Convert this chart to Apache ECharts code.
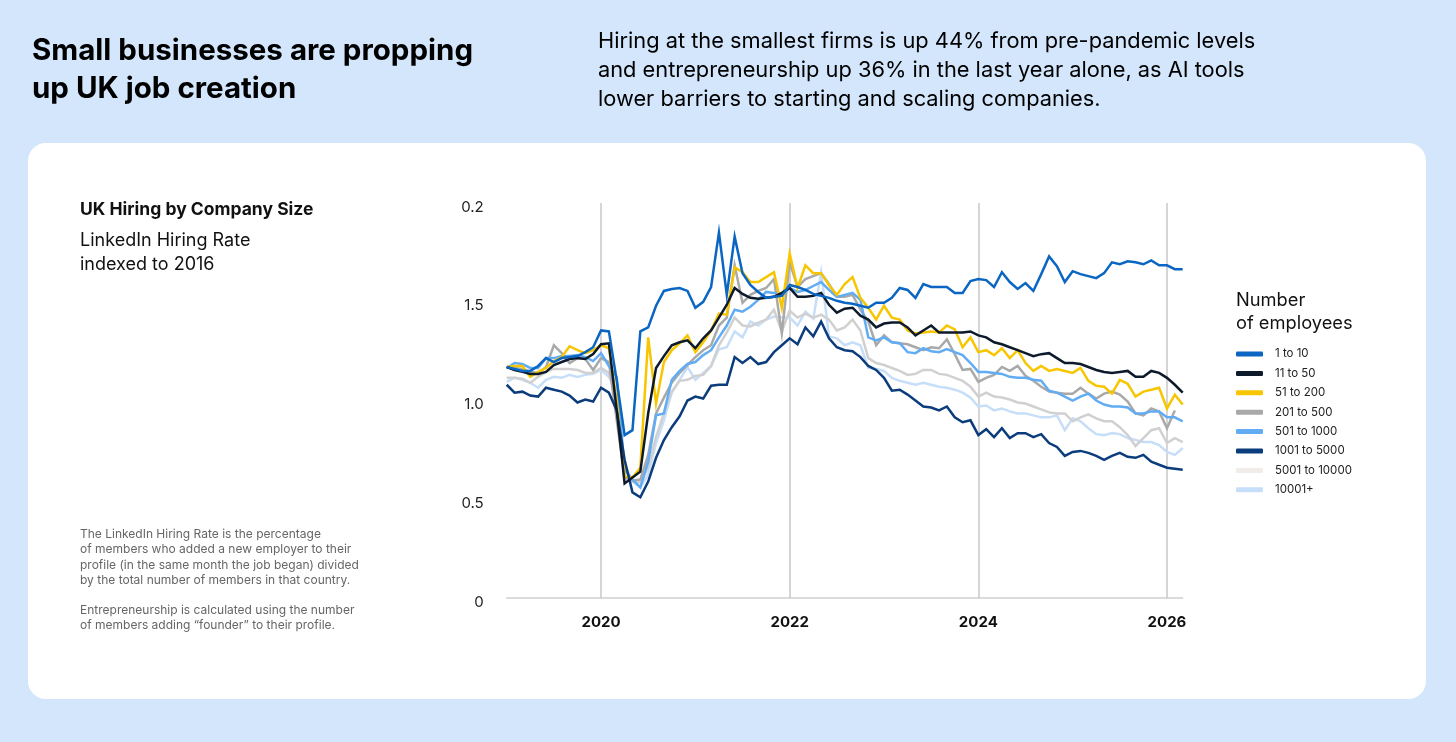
<!DOCTYPE html>
<html>
<head>
<meta charset="utf-8">
<script src="https://cdn.jsdelivr.net/npm/echarts@6/dist/echarts.min.js"></script>
<style>
  html, body { margin: 0; padding: 0; background: #d3e6fb; }
  #chart { width: 1456px; height: 742px; }
</style>
</head>
<body>
<div id="chart"></div>
<script>
// 1. data
// months Jan 2019 .. Mar 2026
var months = [];
for (var y = 2019; y <= 2026; y++) {
    for (var m = 1; m <= 12; m++) {
        if (y === 2026 && m > 3) break;
        months.push(y + '-' + (m < 10 ? '0' + m : m));
    }
}
var yearTicks = ['2020-01', '2022-01', '2024-01', '2026-01'];
var yTickLabels = ['0', '0.5', '1.0', '1.5', '0.2'];

var s1to10 = [1.19,1.18,1.17,1.17,1.195,1.235,1.215,1.235,1.24,1.245,
    1.265,1.29,1.375,1.37,1.12,0.845,0.87,1.37,1.39,1.50,
    1.575,1.585,1.59,1.575,1.49,1.52,1.595,1.87,1.555,1.85,
    1.665,1.605,1.57,1.54,1.545,1.55,1.605,1.595,1.58,1.56,
    1.55,1.54,1.525,1.515,1.51,1.50,1.49,1.515,1.515,1.54,
    1.59,1.58,1.54,1.61,1.595,1.595,1.595,1.565,1.565,1.625,
    1.635,1.63,1.595,1.67,1.62,1.585,1.615,1.575,1.66,1.75,
    1.70,1.62,1.675,1.66,1.65,1.64,1.665,1.72,1.71,1.725,
    1.72,1.71,1.73,1.705,1.705,1.685,1.685];
var s11to50 = [1.19,1.175,1.165,1.155,1.155,1.165,1.20,1.215,1.23,1.235,
    1.23,1.255,1.305,1.31,0.97,0.60,0.63,0.66,0.955,1.185,
    1.245,1.30,1.315,1.325,1.285,1.335,1.375,1.44,1.505,1.59,
    1.56,1.54,1.535,1.54,1.545,1.565,1.59,1.545,1.545,1.55,
    1.565,1.505,1.465,1.485,1.49,1.45,1.43,1.39,1.41,1.415,
    1.415,1.39,1.35,1.375,1.40,1.365,1.365,1.365,1.365,1.37,
    1.35,1.34,1.315,1.305,1.29,1.275,1.26,1.245,1.255,1.26,
    1.235,1.21,1.21,1.205,1.19,1.175,1.165,1.16,1.165,1.17,
    1.14,1.14,1.17,1.16,1.135,1.10,1.06];
var s51to200 = [1.19,1.195,1.195,1.14,1.165,1.185,1.22,1.24,1.295,1.275,
    1.26,1.275,1.30,1.285,1.02,0.635,0.63,0.68,1.34,1.005,
    1.215,1.275,1.31,1.35,1.265,1.315,1.375,1.46,1.455,1.695,
    1.67,1.62,1.62,1.645,1.67,1.49,1.765,1.59,1.705,1.665,
    1.665,1.605,1.555,1.61,1.645,1.54,1.49,1.43,1.50,1.44,
    1.43,1.375,1.36,1.365,1.37,1.365,1.40,1.38,1.29,1.34,
    1.265,1.275,1.25,1.285,1.235,1.275,1.21,1.17,1.195,1.17,
    1.18,1.17,1.16,1.185,1.12,1.095,1.09,1.055,1.125,1.105,
    1.04,1.065,1.075,1.085,0.98,1.05,1.00];
var s201to500 = [1.19,1.185,1.18,1.165,1.16,1.19,1.30,1.26,1.21,1.235,
    1.23,1.175,1.235,1.215,0.92,0.635,0.615,0.62,0.745,0.955,
    1.035,1.11,1.16,1.20,1.24,1.275,1.30,1.40,1.44,1.705,
    1.515,1.555,1.575,1.59,1.635,1.36,1.72,1.595,1.635,1.65,
    1.665,1.61,1.545,1.545,1.555,1.48,1.42,1.30,1.35,1.315,
    1.31,1.305,1.29,1.275,1.29,1.285,1.33,1.255,1.175,1.18,
    1.115,1.135,1.15,1.19,1.17,1.195,1.145,1.12,1.09,1.065,
    1.06,1.055,1.055,1.085,1.055,1.03,1.055,1.065,1.05,1.015,
    0.955,0.945,0.98,0.965,0.88,0.97,null];
var s501to1000 = [1.185,1.21,1.205,1.185,1.185,1.235,1.235,1.245,1.245,1.25,
    1.24,1.22,1.26,1.195,1.14,0.67,0.62,0.58,0.71,0.945,
    0.955,1.125,1.17,1.205,1.215,1.25,1.275,1.34,1.40,1.48,
    1.47,1.495,1.53,1.57,1.565,1.555,1.59,1.57,1.58,1.60,
    1.62,1.58,1.545,1.555,1.565,1.53,1.34,1.325,1.34,1.315,
    1.31,1.265,1.26,1.285,1.27,1.265,1.28,1.265,1.25,1.21,
    1.165,1.165,1.16,1.155,1.14,1.135,1.135,1.125,1.12,1.07,
    1.06,1.04,1.02,1.04,1.055,1.02,1.00,0.99,0.99,0.985,
    0.955,0.955,0.965,0.965,0.935,0.935,0.915];
var s1001to5000 = [1.10,1.06,1.065,1.045,1.04,1.085,1.075,1.065,1.045,1.01,
    1.025,1.015,1.085,1.06,0.97,0.72,0.555,0.53,0.61,0.73,
    0.82,0.885,0.94,1.02,1.04,1.03,1.095,1.10,1.10,1.24,
    1.21,1.24,1.205,1.215,1.265,1.30,1.335,1.305,1.39,1.345,
    1.42,1.335,1.29,1.275,1.27,1.24,1.195,1.175,1.135,1.07,
    1.075,1.05,1.02,0.99,0.985,0.97,0.99,0.935,0.91,0.92,
    0.845,0.875,0.835,0.88,0.83,0.855,0.855,0.835,0.85,0.805,
    0.785,0.74,0.76,0.765,0.755,0.74,0.72,0.74,0.755,0.735,
    0.73,0.745,0.71,0.695,0.68,0.675,0.67];
var s5001to10000 = [1.135,1.135,1.13,1.11,1.14,1.165,1.18,1.18,1.18,1.175,
    1.16,1.16,1.185,1.16,1.02,0.63,0.61,0.605,0.68,0.835,
    0.955,1.065,1.12,1.125,1.145,1.15,1.195,1.30,1.365,1.44,
    1.40,1.395,1.415,1.43,1.48,1.37,1.475,1.44,1.46,1.44,
    1.455,1.43,1.375,1.39,1.43,1.375,1.235,1.21,1.20,1.185,
    1.17,1.15,1.155,1.175,1.175,1.155,1.15,1.135,1.12,1.09,
    1.04,1.06,1.04,1.035,1.025,1.01,1.005,0.99,0.975,0.96,
    0.955,0.955,0.915,0.935,0.95,0.93,0.915,0.915,0.885,0.845,
    0.79,0.83,0.87,0.88,0.805,0.83,0.81];
var s10001plus = [1.115,1.135,1.125,1.11,1.085,1.125,1.14,1.135,1.15,1.14,
    1.15,1.155,1.175,1.14,1.065,0.695,0.61,0.58,0.645,0.805,
    0.92,1.06,1.125,1.19,1.125,1.16,1.195,1.28,1.29,1.37,
    1.34,1.42,1.40,1.43,1.445,1.44,1.44,1.40,1.47,1.435,
    1.67,1.345,1.335,1.30,1.315,1.30,1.185,1.18,1.17,1.135,
    1.12,1.11,1.10,1.11,1.10,1.09,1.085,1.075,1.06,1.035,
    0.99,0.995,0.97,0.98,0.965,0.955,0.955,0.945,0.935,0.935,
    0.945,0.87,0.93,0.915,0.88,0.85,0.845,0.855,0.85,0.83,
    0.82,0.81,0.81,0.795,0.76,0.745,0.78];

var sizeNames = ['1 to 10', '11 to 50', '51 to 200', '201 to 500', '501 to 1000', '1001 to 5000', '5001 to 10000', '10001+'];

// 2. chart
var mychart = echarts.init(document.getElementById('chart'));

function lineSeries(name, data, color) {
    return {
        name: name,
        type: 'line',
        data: data,
        symbol: 'none',
        lineStyle: { color: color, width: 2.5, join: 'miter' },
        itemStyle: { color: color },
        emphasis: { disabled: true }
    };
}

var isYearTick = function (index, value) {
    return yearTicks.indexOf(value) !== -1;
};

var font = 'Inter, "Noto Sans", sans-serif';

option = {
    animation: false,
    textStyle: { fontFamily: font },
    graphic: [
        {
            type: 'text', left: 32, top: 32,
            style: {
                text: 'Small businesses are propping\nup UK job creation',
                font: 'bold 29.5px ' + font, lineHeight: 38, fill: '#000'
            }
        },
        {
            type: 'text', left: 598, top: 27,
            style: {
                text: 'Hiring at the smallest firms is up 44% from pre-pandemic levels\nand entrepreneurship up 36% in the last year alone, as AI tools\nlower barriers to starting and scaling companies.',
                font: '21.8px ' + font, lineHeight: 29, fill: '#000'
            }
        },
        {
            type: 'rect', z: -10,
            shape: { x: 28, y: 143, width: 1398, height: 556, r: 18 },
            style: { fill: '#fff' }
        },
        {
            type: 'text', left: 80, top: 201,
            style: { text: 'UK Hiring by Company Size', font: 'bold 17.5px ' + font, fill: '#111' }
        },
        {
            type: 'text', left: 80, top: 229,
            style: { text: 'LinkedIn Hiring Rate\nindexed to 2016', font: '18px ' + font, lineHeight: 24, fill: '#111' }
        },
        {
            type: 'text', left: 80, top: 527,
            style: {
                text: 'The LinkedIn Hiring Rate is the percentage\nof members who added a new employer to their\nprofile (in the same month the job began) divided\nby the total number of members in that country.\n\nEntrepreneurship is calculated using the number\nof members adding \u201cfounder\u201d to their profile.',
                font: '12px ' + font, lineHeight: 15.2, fill: '#666'
            }
        },
        {
            type: 'text', left: 1236, top: 289,
            style: { text: 'Number\nof employees', font: '18.3px ' + font, lineHeight: 23, fill: '#111' }
        }
    ],
    legend: {
        orient: 'vertical',
        left: 1236,
        top: 347,
        icon: 'roundRect',
        itemWidth: 27,
        itemHeight: 5,
        itemGap: 5.4,
        padding: 0,
        selectedMode: false,
        textStyle: { fontSize: 11.5, color: '#222', lineHeight: 14, padding: [0, 0, 0, 7] },
        data: [
            sizeNames[0], sizeNames[1], sizeNames[2], sizeNames[3], sizeNames[4], sizeNames[5],
            { name: sizeNames[6], itemStyle: { color: '#f1ece7' } },
            sizeNames[7]
        ]
    },
    grid: {
        left: 506.7,
        right: 273.3,
        top: 207,
        bottom: 140
    },
    xAxis: {
        type: 'category',
        data: months,
        boundaryGap: false,
        offset: -4,
        axisLine: { lineStyle: { color: '#d0d0d0', width: 1.5 } },
        axisTick: {
            show: true, inside: true, length: 395, interval: isYearTick,
            lineStyle: { color: '#c8c8c8', width: 1.5 }
        },
        axisLabel: {
            interval: isYearTick,
            formatter: function (v) { return v.slice(0, 4); },
            fontSize: 15, fontWeight: 'bold', color: '#111', margin: 17
        },
        splitLine: { show: false }
    },
    yAxis: {
        type: 'value',
        min: 0,
        max: 2,
        interval: 0.5,
        axisLine: { show: false },
        axisTick: { show: false },
        splitLine: { show: false },
        axisLabel: {
            fontSize: 15, color: '#222', margin: 23,
            formatter: function (v) { return yTickLabels[Math.round(v / 0.5)]; }
        }
    },
    series: [
        lineSeries(sizeNames[7], s10001plus, '#c6def8'),
        lineSeries(sizeNames[6], s5001to10000, '#d0d0d0'),
        lineSeries(sizeNames[3], s201to500, '#a9a9a9'),
        lineSeries(sizeNames[4], s501to1000, '#62acf4'),
        lineSeries(sizeNames[2], s51to200, '#f7c600'),
        lineSeries(sizeNames[5], s1001to5000, '#0b3c7c'),
        lineSeries(sizeNames[1], s11to50, '#0d1a2c'),
        lineSeries(sizeNames[0], s1to10, '#0a66c2')
    ]
};
mychart.setOption(option);
</script>
</body>
</html>
